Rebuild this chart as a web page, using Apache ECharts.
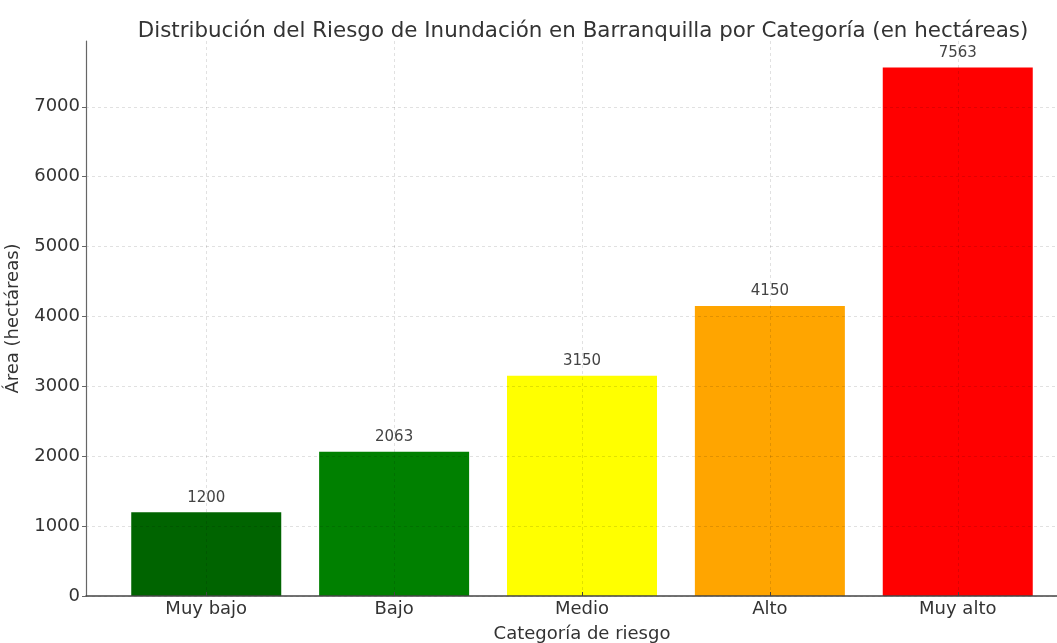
<!DOCTYPE html>
<html>
<head>
<meta charset="utf-8">
<script src="https://cdn.jsdelivr.net/npm/echarts@6/dist/echarts.min.js"></script>
<style>
  html, body { margin: 0; padding: 0; background: #fff; }
  #chart { width: 1057px; height: 643px; }
</style>
</head>
<body>
<div id="chart"></div>
<script>
const categories = ['Muy bajo', 'Bajo', 'Medio', 'Alto', 'Muy alto'];
const areas = [1200, 2063, 3150, 4150, 7563];
const barColors = ['#006400', '#008000', '#ffff00', '#ffa500', '#ff0000'];
const yTicks = [0, 1000, 2000, 3000, 4000, 5000, 6000, 7000];

const font = 'DejaVu Sans';
const gridLine = { show: true, lineStyle: { color: 'rgba(0,0,0,0.15)', type: [3, 3], width: 0.8 } };

const chart = echarts.init(document.getElementById('chart'));

const option = {
  animation: false,
  textStyle: { fontFamily: font },
  title: {
    text: 'Distribución del Riesgo de Inundación en Barranquilla por Categoría (en hectáreas)',
    left: 578,
    top: 16,
    textAlign: 'center',
    textStyle: { fontFamily: font, fontSize: 21.4, fontWeight: 'normal', color: '#333' }
  },
  grid: { left: 86, top: 41, width: 992, height: 555, outerBoundsMode: 'none' },
  xAxis: {
    type: 'value',
    min: -0.64,
    max: 4.64,
    z: 3,
    name: 'Categoría de riesgo',
    nameLocation: 'middle',
    nameGap: 29,
    nameTextStyle: { fontFamily: font, fontSize: 18, color: '#333' },
    axisLine: { show: true, onZero: false, lineStyle: { color: '#444', width: 1.5 } },
    axisTick: { show: true, inside: true, length: 4, customValues: [0, 1, 2, 3, 4], lineStyle: { color: '#444' } },
    axisLabel: {
      customValues: [0, 1, 2, 3, 4],
      formatter: v => categories[Math.round(v)] || '',
      fontFamily: font, fontSize: 18, color: '#333', margin: 4
    },
    splitLine: gridLine
  },
  yAxis: {
    type: 'value',
    min: 0,
    max: 7941,
    z: 3,
    name: 'Área (hectáreas)',
    nameLocation: 'middle',
    nameRotate: 90,
    nameGap: 64,
    nameTextStyle: { fontFamily: font, fontSize: 18, color: '#333' },
    axisLine: { show: true, onZero: false, lineStyle: { color: '#666', width: 1.2 } },
    axisTick: { show: true, length: 4, customValues: yTicks, lineStyle: { color: '#666' } },
    axisLabel: {
      customValues: yTicks,
      formatter: v => String(v),
      fontFamily: font, fontSize: 18, color: '#333', margin: 6
    },
    splitLine: gridLine
  },
  series: [{
    type: 'bar',
    barWidth: 150,
    data: areas.map((v, i) => ({ value: [i, v], itemStyle: { color: barColors[i] } })),
    label: {
      show: true,
      position: 'top',
      distance: 7,
      formatter: p => p.value[1],
      fontFamily: font,
      fontSize: 15,
      color: '#444'
    }
  }]
};

chart.setOption(option);
</script>
</body>
</html>
